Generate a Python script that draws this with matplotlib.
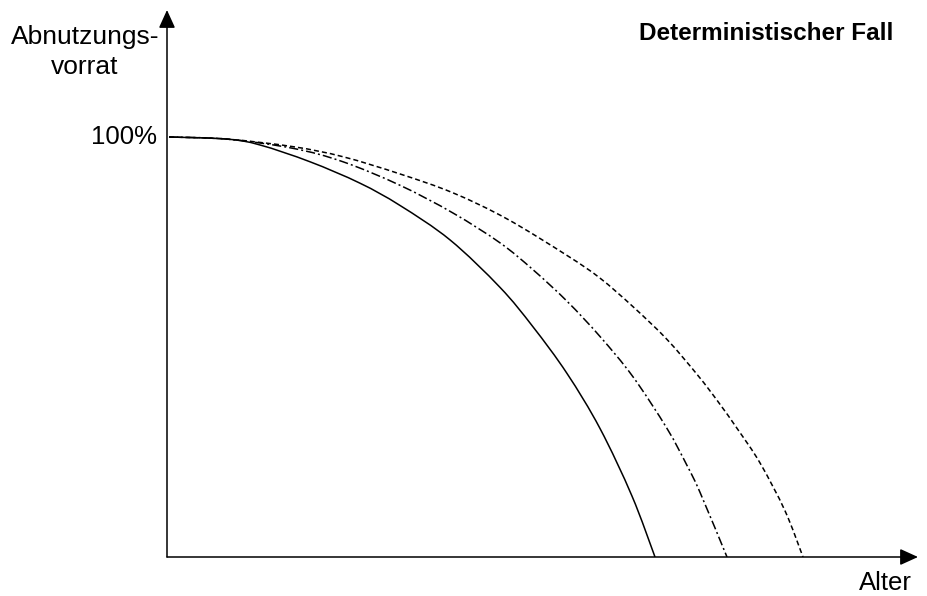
import numpy as np
import matplotlib.pyplot as plt
from matplotlib.path import Path
from matplotlib.patches import PathPatch

plt.rcParams['font.family'] = ['Liberation Sans', 'DejaVu Sans']

# Alter (arbitrary units) and Abnutzungsvorrat in %
alter_solid = [2, 60, 93, 143, 193, 233, 283, 333, 366, 400, 433, 465, 488]
vorrat_solid = [100, 99.5, 98.1, 94.1, 89.0, 83.7, 75.5, 64.2, 54.8, 43.7, 30.6, 14.5, 0]

alter_dashdot = [2, 60, 126, 176, 233, 286, 333, 366, 400, 433, 466, 500, 520, 533, 560]
vorrat_dashdot = [100, 99.5, 97.3, 94.1, 88.5, 81.9, 74.8, 68.4, 60.9, 52.5, 42.9, 30.6, 21.8, 15.4, 0]

alter_dashed = [2, 60, 126, 176, 233, 286, 340, 400, 433, 466, 500, 531, 551, 571, 593, 618, 636]
vorrat_dashed = [100, 99.5, 97.7, 95.3, 91.2, 86.7, 80.5, 71.8, 66.4, 59.6, 51.8, 43.2, 37.0, 30.3, 22.4, 11.0, 0]


def smooth_path(xs, ys):
    # catmull-rom style bezier through the read points
    p = np.column_stack([xs, ys]).astype(float)
    pad = np.vstack([p[0], p, p[-1]])
    verts = [p[0]]
    codes = [Path.MOVETO]
    for i in range(1, len(pad) - 2):
        p0, p1, p2, p3 = pad[i - 1], pad[i], pad[i + 1], pad[i + 2]
        verts += [p1 + (p2 - p0) / 6, p2 - (p3 - p1) / 6, p2]
        codes += [Path.CURVE4] * 3
    return Path(verts, codes)


fig = plt.figure(figsize=(9.27, 5.96), dpi=100)
ax = fig.add_axes([167/927, 39/596, (918-167)/927, (557-10)/596])
ax.set_xlim(0, 751)
ax.set_ylim(0, 547/420*100)
for s in ax.spines.values():
    s.set_visible(False)
ax.set_xticks([])
ax.set_yticks([])

ax.add_patch(PathPatch(smooth_path(alter_solid, vorrat_solid), fill=False,
                       edgecolor='black', lw=1.1, ls='-'))
ax.add_patch(PathPatch(smooth_path(alter_dashdot, vorrat_dashdot), fill=False,
                       edgecolor='black', lw=1.1, ls=(0, (6, 2, 1.3, 2))))
ax.add_patch(PathPatch(smooth_path(alter_dashed, vorrat_dashed), fill=False,
                       edgecolor='black', lw=1.1, ls=(0, (3.3, 2))))

# axes with arrows
arrow = dict(arrowstyle='-|>,head_length=1.1,head_width=0.5', color='black', lw=1.1,
             shrinkA=0, shrinkB=0)
ax.annotate('', xy=(1, 0), xytext=(0, 0), xycoords='axes fraction', arrowprops=arrow)
ax.annotate('', xy=(0, 1), xytext=(0, 0), xycoords='axes fraction', arrowprops=arrow)

fig.text(85/927, 1 - 52/596, 'Abnutzungs-\nvorrat', ha='center', va='center',
         fontsize=19, linespacing=1.3)
fig.text(157/927, 1 - 137/596, '100%', ha='right', va='center', fontsize=18.5)
fig.text(912/927, 1 - 583/596, 'Alter', ha='right', va='center', fontsize=18.5)
fig.text(893/927, 1 - 33/596, 'Deterministischer Fall', ha='right', va='center',
         fontsize=17.5, fontweight='bold')

fig.savefig('out.png', dpi=100)
